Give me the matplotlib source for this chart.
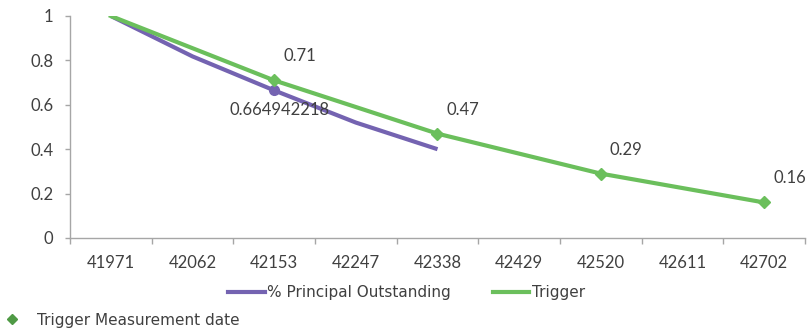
import matplotlib
matplotlib.use("Agg")
import matplotlib.pyplot as plt
from matplotlib.lines import Line2D

plt.rcParams['font.family'] = ['Lato', 'DejaVu Sans']

categories = ['41971', '42062', '42153', '42247', '42338', '42429', '42520', '42611', '42702']
principal = [1.0, 0.818, 0.664942218, 0.52, 0.40]
trigger = [1.0, 0.855, 0.71, 0.59, 0.47, 0.38, 0.29, 0.225, 0.16]
measure_idx = [2, 4, 6, 8]
measure_vals = [0.71, 0.47, 0.29, 0.16]
principal_label_idx = 2

PURPLE = '#7463b1'
GREEN = '#6bbf5c'
DKGREEN = '#4f9a45'
TXT = '#404040'
AX = '#a6a6a6'
FS = 12

fig = plt.figure(figsize=(8.08, 3.33), dpi=100)
ax = fig.add_axes([70/808, 1-238/333, 735/808, 222/333])

x = list(range(len(categories)))
ax.plot(x[:len(principal)], principal, color=PURPLE, lw=3, solid_capstyle='butt', zorder=3)
ax.plot(x[principal_label_idx], principal[principal_label_idx], 'o', color=PURPLE, ms=7, zorder=4)
ax.plot(x, trigger, color=GREEN, lw=3, zorder=3)
ax.plot(measure_idx, measure_vals, 'D', color=GREEN, ms=6.5, zorder=4)

for i, v in zip(measure_idx, measure_vals):
    ax.annotate(f'{v:.2f}', (i, v), xytext=(9, 24), textcoords='offset pixels',
                ha='left', va='center', fontsize=FS, color=TXT, zorder=5)
ax.annotate(f'{principal[principal_label_idx]:.9f}', (principal_label_idx, principal[principal_label_idx]),
            xytext=(5, -20), textcoords='offset pixels', ha='center', va='center',
            fontsize=FS, color=TXT, zorder=5)

ax.set_xlim(-0.5, len(categories) - 0.5)
ax.set_ylim(0, 1)
ax.set_yticks([0, 0.2, 0.4, 0.6, 0.8, 1])
ax.set_yticklabels(['0', '0.2', '0.4', '0.6', '0.8', '1'])
ax.set_xticks(x)
ax.set_xticklabels(categories)
ax.set_xticks([i - 0.5 for i in range(len(categories) + 1)], minor=True)
ax.tick_params(axis='x', which='major', length=0, pad=12, labelsize=FS, labelcolor=TXT)
ax.tick_params(axis='x', which='minor', length=4, color=AX, width=1)
ax.tick_params(axis='y', length=3.6, color=AX, width=1, pad=8.5, labelsize=FS, labelcolor=TXT)
for s in ['top', 'right']:
    ax.spines[s].set_visible(False)
for s in ['left', 'bottom']:
    ax.spines[s].set_color(AX)
    ax.spines[s].set_linewidth(1)
ax.set_facecolor('none')

h1 = [Line2D([], [], color=PURPLE, lw=3), Line2D([], [], color=GREEN, lw=3)]
leg1 = fig.legend(h1, ['% Principal Outstanding', 'Trigger'], loc='center',
                  bbox_to_anchor=(0.503, 1-293/333), ncol=2, frameon=False,
                  prop={'family': ['DejaVu Sans'], 'size': 11},
                  handlelength=2.4, handletextpad=0.15, columnspacing=2.75,
                  labelcolor=TXT)
h2 = [Line2D([], [], marker='D', color=DKGREEN, ls='none', ms=5)]
leg2 = fig.legend(h2, ['Trigger Measurement date'], loc='center left',
                  bbox_to_anchor=(0.0, 1-320/333), frameon=False,
                  prop={'family': ['DejaVu Sans'], 'size': 11},
                  handlelength=1.0, handletextpad=1.1, borderpad=0.1, borderaxespad=0.2,
                  labelcolor=TXT)

fig.savefig('out.png', dpi=100)
